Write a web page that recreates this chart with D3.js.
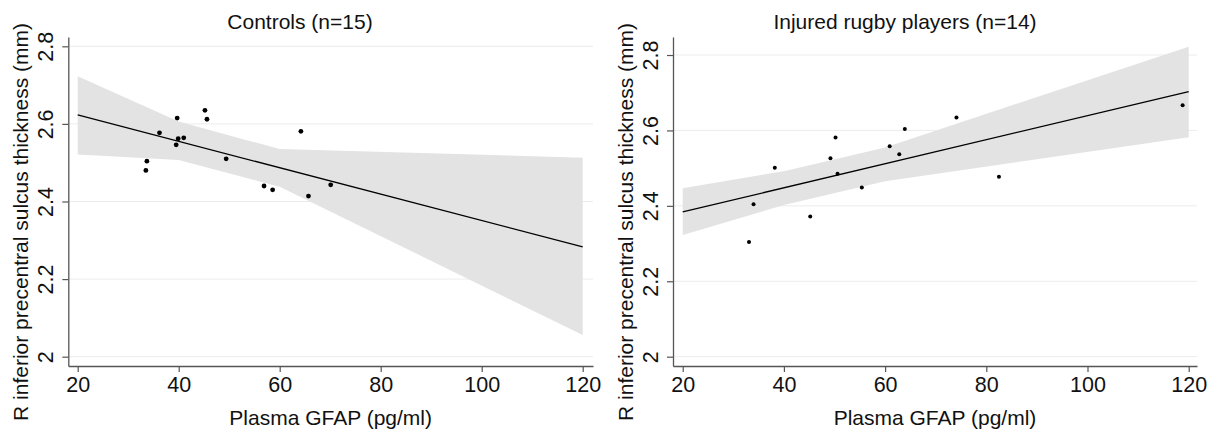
<!DOCTYPE html>
<html>
<head>
<meta charset="utf-8">
<script src="https://cdn.jsdelivr.net/npm/d3@7"></script>
<style>
  html, body { margin: 0; padding: 0; background: #fff; }
  svg { display: block; }
  text { font-family: "Liberation Sans", Arial, Helvetica, sans-serif; fill: #111; }
</style>
</head>
<body>
<svg id="chart" width="1207" height="431"></svg>
<script>
// ---------- data ----------
const controlsTitle = "Controls (n=15)";
const injuredTitle = "Injured rugby players (n=14)";
const xTitle = "Plasma GFAP (pg/ml)";
const yTitle = "R inferior precentral sulcus thickness (mm)";

const controlsGFAP = [33.5, 33.7, 36.2, 39.7, 39.5, 39.9, 41.0, 45.2, 45.6, 49.4, 56.9, 58.6, 64.2, 65.7, 70.1];
const controlsThickness = [2.480, 2.504, 2.577, 2.615, 2.546, 2.562, 2.564, 2.635, 2.612, 2.510, 2.440, 2.430, 2.581, 2.414, 2.443];

const injuredGFAP = [33.1, 34.0, 38.2, 45.2, 49.2, 50.2, 50.6, 55.4, 60.9, 62.8, 63.9, 74.1, 82.5, 118.8];
const injuredThickness = [2.304, 2.404, 2.501, 2.372, 2.526, 2.581, 2.485, 2.449, 2.558, 2.537, 2.604, 2.634, 2.477, 2.667];

const fitX = [20, 120];
const controlsFit = [2.623, 2.283];
const injuredFit = [2.384, 2.703];

const ciX = [20, 40, 60, 120];
const controlsCILower = [2.521, 2.507, 2.438, 2.056];
const controlsCIUpper = [2.723, 2.606, 2.535, 2.513];
const injuredCILower = [2.323, 2.402, 2.465, 2.582];
const injuredCIUpper = [2.447, 2.492, 2.555, 2.822];

const xTicks = [20, 40, 60, 80, 100, 120];
const yTicks = [2, 2.2, 2.4, 2.6, 2.8];

// ---------- drawing ----------
const svg = d3.select("#chart");
const FONT = '"Liberation Sans", Arial, Helvetica, sans-serif';

function panel(cfg) {
  const g = svg.append("g");
  const x = d3.scaleLinear().domain(cfg.xDomain).range([cfg.left, cfg.right]);
  const y = d3.scaleLinear().domain(cfg.yDomain).range([cfg.bottom, cfg.top]);

  // gridlines
  g.append("g").selectAll("line").data(yTicks).join("line")
    .attr("x1", cfg.left).attr("x2", cfg.right)
    .attr("y1", d => y(d)).attr("y2", d => y(d))
    .attr("stroke", "#ececec").attr("stroke-width", 1);

  // confidence band
  const band = ciX.map((v, i) => ({ x: v, lo: cfg.lower[i], hi: cfg.upper[i] }));
  g.append("path").datum(band)
    .attr("d", d3.area().x(d => x(d.x)).y0(d => y(d.lo)).y1(d => y(d.hi)))
    .attr("fill", "#e3e3e3");

  // points
  g.append("g").selectAll("circle").data(cfg.xs.map((v, i) => [v, cfg.ys[i]])).join("circle")
    .attr("cx", d => x(d[0])).attr("cy", d => y(d[1]))
    .attr("r", cfg.r).attr("fill", "#000");

  // fitted line
  g.append("path").datum(fitX.map((v, i) => [v, cfg.fit[i]]))
    .attr("d", d3.line().x(d => x(d[0])).y(d => y(d[1])))
    .attr("fill", "none").attr("stroke", "#000").attr("stroke-width", 1.3);

  // x axis
  const xa = g.append("g").attr("transform", `translate(0,${cfg.bottom})`)
    .call(d3.axisBottom(x).tickValues(xTicks).tickSize(6).tickSizeOuter(0).tickPadding(5).tickFormat(d3.format("~g")));
  xa.select(".domain").attr("stroke", "#555").attr("stroke-width", 1.3);
  xa.selectAll(".tick line").attr("stroke", "#555").attr("stroke-width", 1.2);
  xa.selectAll(".tick text").attr("font-size", 21.5).attr("fill", "#111")
    .attr("font-family", FONT);

  // y axis
  const ya = g.append("g").attr("transform", `translate(${cfg.left},0)`)
    .call(d3.axisLeft(y).tickValues(yTicks).tickSize(6).tickSizeOuter(0).tickFormat(d3.format("~g")));
  ya.select(".domain").attr("stroke", "#555").attr("stroke-width", 1.3);
  ya.selectAll(".tick line").attr("stroke", "#555").attr("stroke-width", 1.2);
  ya.selectAll(".tick text")
    .attr("transform", "rotate(-90)")
    .attr("x", 0).attr("y", -15).attr("dy", 0)
    .attr("text-anchor", "middle")
    .attr("font-size", 21.5).attr("fill", "#111")
    .attr("font-family", FONT);

  // titles
  g.append("text").attr("x", cfg.titleX).attr("y", 29).attr("text-anchor", "middle")
    .attr("font-size", 21).text(cfg.title);
  g.append("text").attr("x", (cfg.left + cfg.right) / 2).attr("y", 425).attr("text-anchor", "middle")
    .attr("font-size", 21).text(xTitle);
  g.append("text").attr("transform", `translate(${cfg.left - 40},222) rotate(-90)`)
    .attr("text-anchor", "middle").attr("font-size", 21).text(yTitle);
}

panel({
  title: controlsTitle, titleX: 300,
  left: 68.3, right: 593, top: 37, bottom: 366,
  xDomain: [18.14, 122.04], yDomain: [1.976, 2.824],
  xs: controlsGFAP, ys: controlsThickness, fit: controlsFit,
  lower: controlsCILower, upper: controlsCIUpper, r: 2.4
});

panel({
  title: injuredTitle, titleX: 905,
  left: 673, right: 1197, top: 37, bottom: 366,
  xDomain: [18.08, 121.64], yDomain: [1.9753, 2.8478],
  xs: injuredGFAP, ys: injuredThickness, fit: injuredFit,
  lower: injuredCILower, upper: injuredCIUpper, r: 2.0
});
</script>
</body>
</html>
